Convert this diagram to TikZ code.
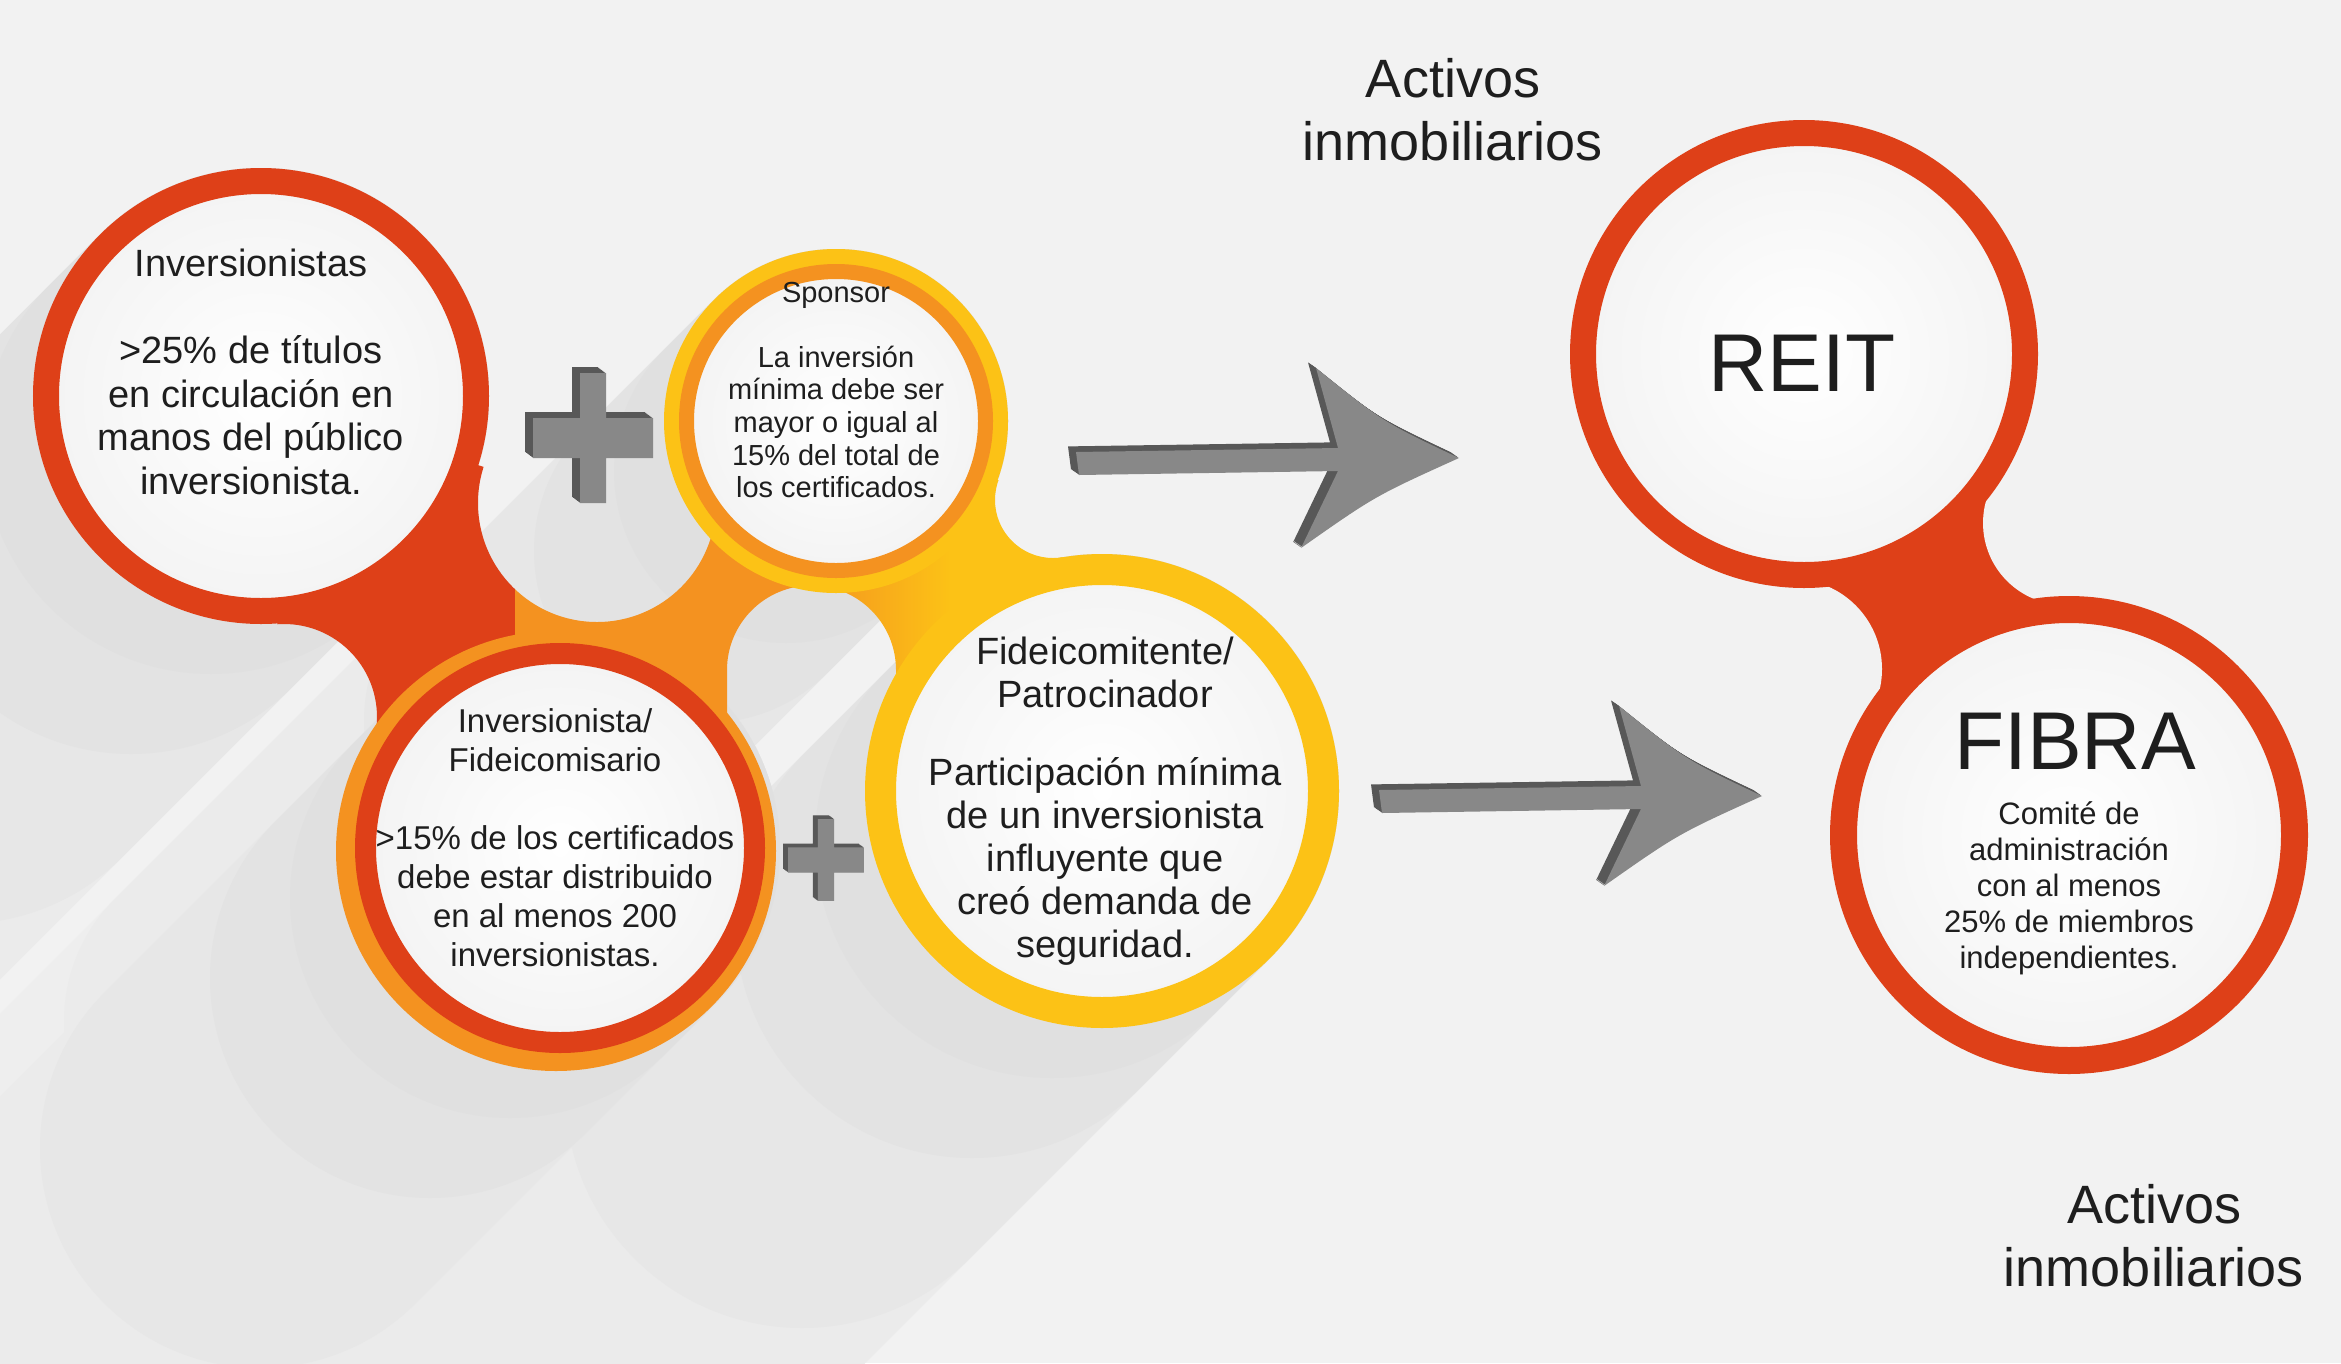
\documentclass[tikz,border=0pt]{standalone}
\usepackage{fontspec}
\setmainfont{Liberation Sans}
\usetikzlibrary{backgrounds}
\definecolor{fondo}{RGB}{242,242,242}
\definecolor{rojo}{RGB}{222,64,24}
\definecolor{naranja}{RGB}{244,146,32}
\definecolor{amarillo}{RGB}{252,194,22}
\definecolor{ink}{RGB}{30,30,30}
\definecolor{gcara}{RGB}{136,136,136}
\definecolor{glado}{RGB}{88,88,88}
\newcommand{\cruz}{(-13,-65) -- (13,-65) -- (13,-20) -- (60,-20) -- (60,20) -- (13,20)
  -- (13,65) -- (-13,65) -- (-13,20) -- (-60,20) -- (-60,-20) -- (-13,-20) -- cycle}
\newcommand{\flecha}{(-383,-6) -- (-121,-10) -- (-143,-90) .. controls (-76,-36) .. (0,0)
  .. controls (-84,38) .. (-158,90) -- (-121,13) -- (-380,17) -- cycle}
\tikzset{
  ring/.style={circle,draw=#1,inner sep=0pt,inner color=white,outer color=gray!9},
  txt/.style={text=ink,align=center,inner sep=0pt},
  hueco/.style={fill=fondo},
  sombra/.style={line cap=round,draw=fondo!#1!black},
  pics/mas/.style={code={
    \foreach \k in {1,...,8} {\fill[glado,shift={(-\k,-0.75*\k)}] \cruz;}
    \fill[gcara] \cruz;
  }},
  pics/flechota/.style={code={
    \foreach \k in {1,...,8} {\fill[glado,shift={(-\k,-0.7*\k)}] \flecha;}
    \fill[gcara] \flecha;
  }},
}
\begin{document}
\begin{tikzpicture}[x=1pt,y=-1pt]
  \useasboundingbox (0,0) rectangle (2341,1363);
  % circles
  \node[ring=rojo,line width=26pt,minimum size=430pt] (inv) at (261,396) {};
  \node[ring=naranja,line width=15pt,minimum size=299pt] (spon) at (836,421) {};
  \node[ring=rojo,line width=21pt,minimum size=389pt] (fcom) at (560,848) {};
  \node[ring=amarillo,line width=31pt,minimum size=443pt] (fpat) at (1102,791) {};
  \node[ring=rojo,line width=26pt,minimum size=442pt] (reit) at (1804,354) {};
  \node[ring=rojo,line width=27pt,minimum size=451pt] (fibra) at (2069,835) {};

  \begin{scope}[on background layer]
    \fill[fondo] (0,0) rectangle (2341,1363);
    % long shadow of the left group
    \foreach \L/\t in {1100/98.5,600/97,300/95.5,130/94,50/92.5}
      \foreach \c/\r in {inv/228,spon/172,fcom/220,fpat/237}
        \draw[sombra=\t,line width=\r*2pt] (\c.center) -- ++(-\L,\L);
    % blob joining the four circles
    \coordinate (pera) at (597,503);
    \coordinate (cuelloBD) at (1053,500);
    \coordinate (bajo) at (811,760);
    \coordinate (cuelloAC) at (284,717);
    \begin{scope}[even odd rule]
      \clip (inv.center) -- (pera) -- (spon.center) -- (cuelloBD) -- (fpat.center)
        -- (bajo) -- (fcom.center) -- (cuelloAC) -- cycle;
      \clip (0,0) rectangle (2341,1363)
        (pera) circle (119) (cuelloBD) circle (58) (cuelloAC) circle (93)
        (727,1100) -- (727,670) arc[start angle=180,end angle=360,radius=84.5]
        -- (896,1100) -- cycle;
      \fill[rojo] (200,300) rectangle (515,1000);
      \fill[naranja] (515,300) rectangle (800,1000);
      \shade[left color=naranja,right color=amarillo] (800,300) rectangle (950,1000);
      \fill[amarillo] (950,300) rectangle (1150,1000);
    \end{scope}
    \fill[amarillo] (spon.center) circle (172);
    \fill[naranja] (556,851) circle (220);
    % neck REIT-FIBRA
    \coordinate (nd) at (2065,523);
    \coordinate (ni) at (1792,669);
    \fill[rojo] (reit.center) -- (nd) -- (fibra.center) -- (ni) -- cycle;
    \fill[hueco] (nd) circle (82);
    \fill[hueco] (ni) circle (90);
  \end{scope}

  % arrows and plus signs
  \coordinate (p1) at (1459,458);
  \coordinate (p2) at (1762,796);
  \pic at (p1) {flechota};
  \pic at (p2) {flechota};
  \pic at (593,438) {mas};
  \pic[scale=0.63] at (826,860) {mas};

  % texts
  \node[txt,font=\fontsize{38}{43.5}\selectfont] (invT) at (251,372)
    {Inversionistas\\[43.5pt]>25\% de títulos\\en circulación en\\manos del público\\inversionista.};
  \node[txt,font=\fontsize{29}{32.6}\selectfont] (sponT) at (836,390)
    {Sponsor\\[32.6pt]La inversión\\mínima debe ser\\mayor o igual al\\15\% del total de\\los certificados.};
  \node[txt,font=\fontsize{33}{39}\selectfont] (fcomT) at (555,838)
    {Inversionista/\\Fideicomisario\\[39pt]>15\% de los certificados\\debe estar distribuido\\en al menos 200\\inversionistas.};
  \node[txt,font=\fontsize{38}{43}\selectfont] (fpatT) at (1105,801)
    {Fideicomitente/\\Patrocinador\\[35pt]Participación mínima\\de un inversionista\\influyente que\\creó demanda de\\seguridad.};
  \node[txt,font=\fontsize{82}{90}\selectfont] (reitT) at (1802,363) {REIT};
  \node[txt,font=\fontsize{82}{90}\selectfont] (fibraT) at (2075,741) {FIBRA};
  \node[txt,font=\fontsize{31}{36}\selectfont] (fibraB) at (2069,888)
    {Comité de\\administración\\con al menos\\25\% de miembros\\independientes.};
  \node[txt,font=\fontsize{54}{63}\selectfont] (act1) at (1453,110) {Activos\\inmobiliarios};
  \node[txt,font=\fontsize{54}{63}\selectfont] (act2) at (2154,1236) {Activos\\inmobiliarios};
\end{tikzpicture}
\end{document}
